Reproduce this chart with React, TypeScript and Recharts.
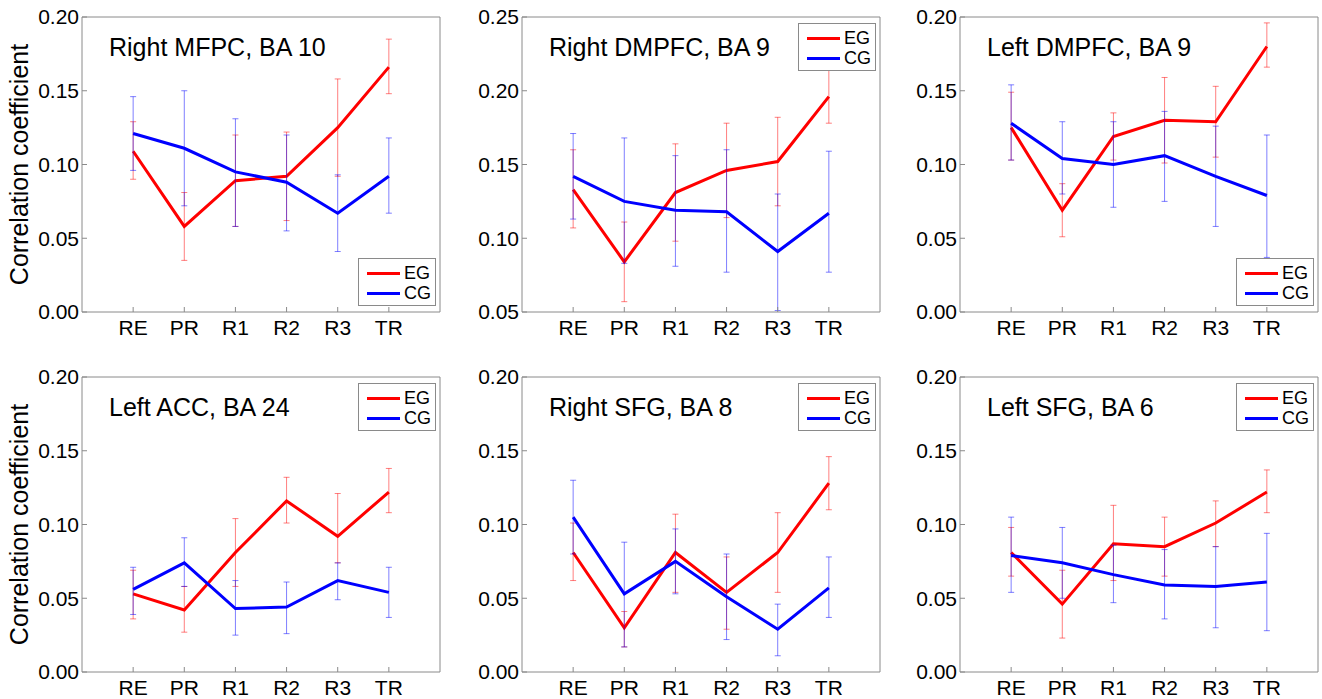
import React from 'react';
import { LineChart, Line, XAxis, YAxis, ErrorBar, Label } from 'recharts';

const PHASES = ['RE', 'PR', 'R1', 'R2', 'R3', 'TR'];
const PHASE_POS = [1, 2, 3, 4, 5, 6];
const TICKS_020 = [0, 0.05, 0.1, 0.15, 0.2];
const TICKS_025 = [0.05, 0.1, 0.15, 0.2, 0.25];

// Right MFPC, BA 10
const MFPC_EG = [0.109, 0.058, 0.089, 0.092, 0.125, 0.166];
const MFPC_EG_LO = [0.090, 0.035, 0.058, 0.062, 0.092, 0.148];
const MFPC_EG_HI = [0.129, 0.081, 0.120, 0.122, 0.158, 0.185];
const MFPC_CG = [0.121, 0.111, 0.095, 0.088, 0.067, 0.092];
const MFPC_CG_LO = [0.096, 0.072, 0.058, 0.055, 0.041, 0.067];
const MFPC_CG_HI = [0.146, 0.150, 0.131, 0.120, 0.093, 0.118];

// Right DMPFC, BA 9
const RDMPFC_EG = [0.133, 0.084, 0.131, 0.146, 0.152, 0.196];
const RDMPFC_EG_LO = [0.107, 0.057, 0.098, 0.114, 0.122, 0.178];
const RDMPFC_EG_HI = [0.160, 0.111, 0.164, 0.178, 0.182, 0.215];
const RDMPFC_CG = [0.142, 0.125, 0.119, 0.118, 0.091, 0.117];
const RDMPFC_CG_LO = [0.113, 0.083, 0.081, 0.077, 0.051, 0.077];
const RDMPFC_CG_HI = [0.171, 0.168, 0.156, 0.160, 0.130, 0.159];

// Left DMPFC, BA 9
const LDMPFC_EG = [0.125, 0.069, 0.119, 0.130, 0.129, 0.180];
const LDMPFC_EG_LO = [0.103, 0.051, 0.103, 0.101, 0.105, 0.166];
const LDMPFC_EG_HI = [0.149, 0.087, 0.135, 0.159, 0.153, 0.196];
const LDMPFC_CG = [0.128, 0.104, 0.100, 0.106, 0.092, 0.079];
const LDMPFC_CG_LO = [0.103, 0.080, 0.071, 0.075, 0.058, 0.037];
const LDMPFC_CG_HI = [0.154, 0.129, 0.129, 0.136, 0.126, 0.120];

// Left ACC, BA 24
const ACC_EG = [0.053, 0.042, 0.081, 0.116, 0.092, 0.122];
const ACC_EG_LO = [0.036, 0.027, 0.058, 0.101, 0.074, 0.108];
const ACC_EG_HI = [0.069, 0.058, 0.104, 0.132, 0.121, 0.138];
const ACC_CG = [0.056, 0.074, 0.043, 0.044, 0.062, 0.054];
const ACC_CG_LO = [0.039, 0.058, 0.025, 0.026, 0.049, 0.037];
const ACC_CG_HI = [0.071, 0.091, 0.062, 0.061, 0.074, 0.071];

// Right SFG, BA 8
const RSFG_EG = [0.081, 0.030, 0.081, 0.054, 0.081, 0.128];
const RSFG_EG_LO = [0.062, 0.017, 0.054, 0.029, 0.054, 0.110];
const RSFG_EG_HI = [0.101, 0.041, 0.107, 0.078, 0.108, 0.146];
const RSFG_CG = [0.105, 0.053, 0.075, 0.051, 0.029, 0.057];
const RSFG_CG_LO = [0.080, 0.017, 0.053, 0.022, 0.011, 0.037];
const RSFG_CG_HI = [0.130, 0.088, 0.097, 0.080, 0.046, 0.078];

// Left SFG, BA 6
const LSFG_EG = [0.081, 0.046, 0.087, 0.085, 0.101, 0.122];
const LSFG_EG_LO = [0.065, 0.023, 0.062, 0.065, 0.085, 0.108];
const LSFG_EG_HI = [0.098, 0.069, 0.113, 0.105, 0.116, 0.137];
const LSFG_CG = [0.079, 0.074, 0.066, 0.059, 0.058, 0.061];
const LSFG_CG_LO = [0.054, 0.050, 0.047, 0.036, 0.030, 0.028];
const LSFG_CG_HI = [0.105, 0.098, 0.086, 0.083, 0.085, 0.094];

const FONT = "'Liberation Sans', Arial, Helvetica, sans-serif";
const FRAME = '#8a8a8a';
const RED = '#ff0000';
const BLUE = '#0000ff';

interface PanelProps {
  title: string;
  eg: number[];
  egLo: number[];
  egHi: number[];
  cg: number[];
  cgLo: number[];
  cgHi: number[];
  yDomain: [number, number];
  yTicks: number[];
  left: number;
  top: number;
  legendBottom?: boolean;
  yLabel?: boolean;
}

const YLabel = () => (
  <text
    x={19}
    y={164.5}
    transform="rotate(-90, 19, 164.5)"
    textAnchor="middle"
    dominantBaseline="central"
    fontFamily={FONT}
    fontSize={25}
    fill="#000"
  >
    Correlation coefficient
  </text>
);

const LegendBox: React.FC<{ top: number }> = ({ top }) => (
  <div
    style={{
      position: 'absolute',
      left: 358,
      top,
      width: 76,
      height: 46,
      border: `1px solid ${FRAME}`,
      background: '#fff',
      fontFamily: FONT,
      fontSize: 18,
    }}
  >
    {[
      { name: 'EG', color: RED, y: 14 },
      { name: 'CG', color: BLUE, y: 34 },
    ].map((it) => (
      <React.Fragment key={it.name}>
        <div style={{ position: 'absolute', left: 8, top: it.y - 1.5, width: 33, height: 3, background: it.color }} />
        <div style={{ position: 'absolute', left: 45, top: it.y - 10, lineHeight: '20px', color: '#000' }}>{it.name}</div>
      </React.Fragment>
    ))}
  </div>
);

const Panel: React.FC<PanelProps> = (p) => {
  const data = PHASE_POS.map((x, i) => ({
    x,
    eg: p.eg[i],
    egErr: [p.eg[i] - p.egLo[i], p.egHi[i] - p.eg[i]],
    cg: p.cg[i],
    cgErr: [p.cg[i] - p.cgLo[i], p.cgHi[i] - p.cg[i]],
  }));
  const tickStyle = { fill: '#000', fontSize: 21, fontFamily: FONT };

  return (
    <div style={{ position: 'absolute', left: p.left, top: p.top, width: 442, height: 339 }}>
      <LineChart width={442} height={339} data={data} margin={{ top: 16, right: 0, bottom: 0, left: 0 }}>
        <XAxis
          xAxisId="top"
          orientation="top"
          type="number"
          dataKey="x"
          domain={[0, 7]}
          ticks={PHASE_POS}
          allowDataOverflow
          height={1}
          tick={false}
          tickSize={-5}
          stroke={FRAME}
        />
        <XAxis
          type="number"
          dataKey="x"
          domain={[0, 7]}
          ticks={PHASE_POS}
          interval={0}
          allowDataOverflow
          height={27}
          tickSize={-5}
          tickMargin={13}
          stroke={FRAME}
          tick={tickStyle}
          tickFormatter={(v: number) => PHASES[v - 1]}
        />
        <YAxis
          type="number"
          domain={p.yDomain}
          ticks={p.yTicks}
          interval={0}
          allowDataOverflow
          width={82}
          tickSize={-5}
          tickMargin={8}
          stroke={FRAME}
          tick={tickStyle}
          tickFormatter={(v: number) => v.toFixed(2)}
        >
          {p.yLabel && <Label content={<YLabel />} />}
        </YAxis>
        <YAxis
          yAxisId="right"
          orientation="right"
          type="number"
          domain={p.yDomain}
          ticks={p.yTicks}
          allowDataOverflow
          width={2}
          tick={false}
          tickSize={-5}
          stroke={FRAME}
        />
        <Line dataKey="eg" stroke={RED} strokeWidth={3} dot={false} activeDot={false} isAnimationActive={false}>
          <ErrorBar dataKey="egErr" width={3} stroke={RED} strokeOpacity={0.5} strokeWidth={1} direction="y" />
        </Line>
        <Line dataKey="cg" stroke={BLUE} strokeWidth={3} dot={false} activeDot={false} isAnimationActive={false}>
          <ErrorBar dataKey="cgErr" width={3} stroke={BLUE} strokeOpacity={0.5} strokeWidth={1} direction="y" />
        </Line>
      </LineChart>
      <div
        style={{
          position: 'absolute',
          left: 109,
          top: 35,
          fontFamily: FONT,
          fontSize: 25,
          lineHeight: '25px',
          whiteSpace: 'nowrap',
          color: '#000',
        }}
      >
        {p.title}
      </div>
      <LegendBox top={p.legendBottom ? 258 : 23} />
    </div>
  );
};

export default function App() {
  return (
    <div
      style={{
        position: 'absolute',
        left: 0,
        top: 0,
        width: 1322,
        height: 699,
        overflow: 'hidden',
        background: '#fff',
      }}
    >
      <Panel title="Right MFPC, BA 10" eg={MFPC_EG} egLo={MFPC_EG_LO} egHi={MFPC_EG_HI}
        cg={MFPC_CG} cgLo={MFPC_CG_LO} cgHi={MFPC_CG_HI}
        yDomain={[0, 0.2]} yTicks={TICKS_020} left={0} top={0} legendBottom yLabel />
      <Panel title="Right DMPFC, BA 9" eg={RDMPFC_EG} egLo={RDMPFC_EG_LO} egHi={RDMPFC_EG_HI}
        cg={RDMPFC_CG} cgLo={RDMPFC_CG_LO} cgHi={RDMPFC_CG_HI}
        yDomain={[0.05, 0.25]} yTicks={TICKS_025} left={440} top={0} />
      <Panel title="Left DMPFC, BA 9" eg={LDMPFC_EG} egLo={LDMPFC_EG_LO} egHi={LDMPFC_EG_HI}
        cg={LDMPFC_CG} cgLo={LDMPFC_CG_LO} cgHi={LDMPFC_CG_HI}
        yDomain={[0, 0.2]} yTicks={TICKS_020} left={878} top={0} legendBottom />
      <Panel title="Left ACC, BA 24" eg={ACC_EG} egLo={ACC_EG_LO} egHi={ACC_EG_HI}
        cg={ACC_CG} cgLo={ACC_CG_LO} cgHi={ACC_CG_HI}
        yDomain={[0, 0.2]} yTicks={TICKS_020} left={0} top={360} yLabel />
      <Panel title="Right SFG, BA 8" eg={RSFG_EG} egLo={RSFG_EG_LO} egHi={RSFG_EG_HI}
        cg={RSFG_CG} cgLo={RSFG_CG_LO} cgHi={RSFG_CG_HI}
        yDomain={[0, 0.2]} yTicks={TICKS_020} left={440} top={360} />
      <Panel title="Left SFG, BA 6" eg={LSFG_EG} egLo={LSFG_EG_LO} egHi={LSFG_EG_HI}
        cg={LSFG_CG} cgLo={LSFG_CG_LO} cgHi={LSFG_CG_HI}
        yDomain={[0, 0.2]} yTicks={TICKS_020} left={878} top={360} />
    </div>
  );
}
